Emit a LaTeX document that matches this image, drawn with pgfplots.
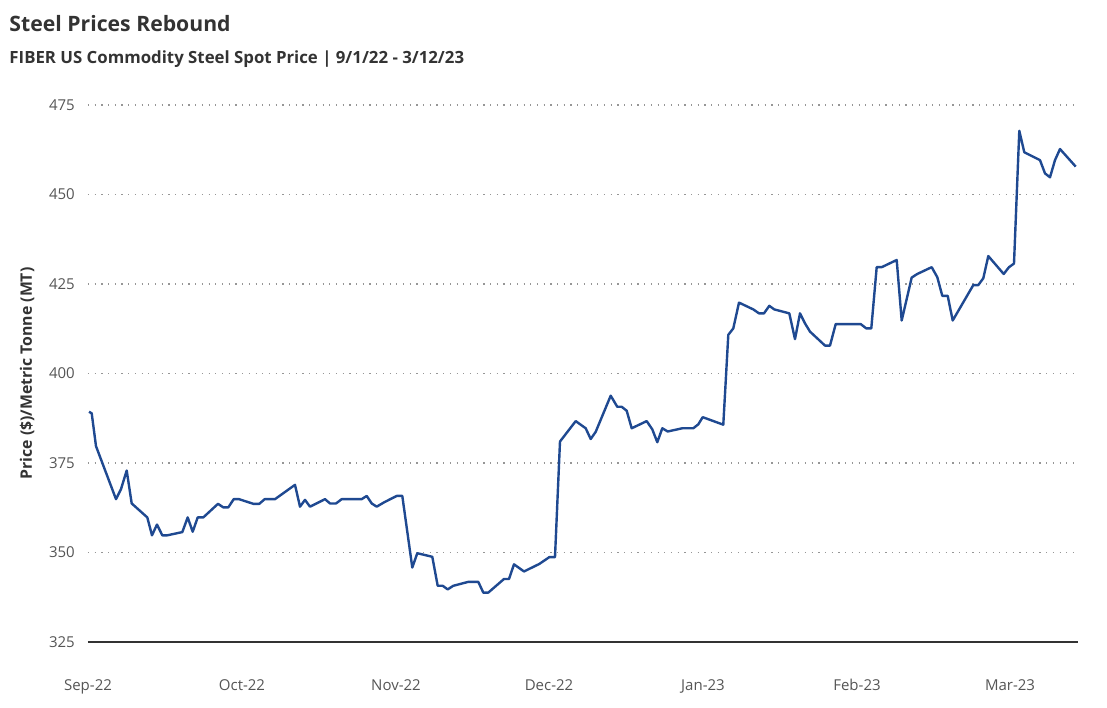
\documentclass[border=0pt]{standalone}
\usepackage{fontspec}
\setmainfont{Open Sans}
\usepackage{pgfplots}
\pgfplotsset{compat=1.18}
\definecolor{lineblue}{RGB}{31,73,145}
\definecolor{titlegray}{RGB}{51,51,51}
\definecolor{tickgray}{RGB}{85,85,85}
\definecolor{gridgray}{RGB}{150,150,150}
\begin{document}
\begin{tikzpicture}
\begin{axis}[
  scale only axis,
  width=990bp, height=537bp,
  xmin=88, xmax=1078,
  ymin=325, ymax=475,
  ytick={325,350,375,400,425,450,475},
  xtick={88,242,396,549,703,857,1010},
  xticklabels={Sep-22,Oct-22,Nov-22,Dec-22,Jan-23,Feb-23,Mar-23},
  axis lines*=left,
  y axis line style={draw=none},
  x axis line style={draw=titlegray, line width=1.1bp},
  major tick length=0pt,
  tick style={draw=none},
  ymajorgrids,
  grid style={draw=gridgray, line width=1.2bp, dash pattern=on 1.2bp off 5.5bp},
  /pgf/number format/assume math mode=true,
  ticklabel style={font=\fontsize{15bp}{18bp}\selectfont, text=tickgray, inner sep=0pt},
  xticklabel style={anchor=base, yshift=-48.5bp},
  yticklabel style={anchor=east, xshift=-13bp},
  clip=false,
]
\addplot[lineblue, line width=2.4bp, line join=round] coordinates {
(89,389.3)(91.7,388.9)(96,379.7)(116,364.9)(121,367.7)(126.7,372.9)(131.7,363.7)
(147.3,359.8)(152,354.8)(157,357.8)(162.3,354.8)(167.3,354.8)(182.3,355.7)(187.7,359.8)
(192.7,355.8)(197.7,359.8)(203.3,359.8)(218,363.6)(223.3,362.6)(228.3,362.6)(233.7,364.9)
(239,364.9)(253.3,363.6)(259.3,363.6)(264.7,364.9)(275,364.9)(295,368.9)(300,362.8)
(305,364.7)(310,362.8)(325,364.9)(330,363.7)(336,363.7)(341.7,364.9)(361.7,364.9)
(366.7,365.8)(371.7,363.7)(376.7,362.8)(384,364.0)(396.7,365.8)(402.3,365.8)(412.3,345.8)
(417.3,349.8)(432.3,348.8)(437.7,340.7)(442.7,340.7)(447.7,339.7)(453.3,340.7)(468.3,341.8)
(478.3,341.8)(483.3,338.8)(488.3,338.8)(504,342.6)(509,342.6)(514,346.7)(524,344.7)
(539.3,346.8)(549.3,348.7)(555,348.7)(560,381.0)(575.7,386.7)(585.7,384.7)(590.7,381.7)
(595.7,383.7)(610.7,393.8)(617.3,390.7)(621.7,390.7)(626.7,389.6)(631.7,384.7)(646.7,386.7)
(652.3,384.4)(657.3,380.8)(662.3,384.7)(667.7,383.8)(682.3,384.7)(693.3,384.7)(698.3,385.8)
(702.7,387.8)(723.3,385.7)(728.3,410.8)(733.3,412.6)(739,419.8)(753.3,417.9)(759,416.8)
(764,416.8)(769.3,418.9)(774.3,417.9)(789.3,416.8)(795,409.6)(800,416.8)(805,414.0)
(810,411.7)(825,407.8)(830,407.8)(835.7,413.8)(860.7,413.8)(866.3,412.6)(871.3,412.6)
(876.7,429.7)(881.7,429.7)(896.7,431.7)(901.7,414.8)(911.7,426.8)(917.3,427.8)(931.7,429.7)
(937.3,426.9)(942.3,421.7)(947.7,421.7)(952.7,414.8)(973.3,424.7)(978.3,424.7)(983.3,426.6)
(988.3,432.8)(1003.7,427.8)(1009,429.7)(1014,430.7)(1019.3,467.8)(1024.3,461.8)(1040,459.6)
(1045,455.9)(1050,454.8)(1055,459.6)(1060,462.7)(1075.7,457.8)
};
\end{axis}
\node[anchor=base west, inner sep=0pt, text=titlegray, font=\bfseries\fontsize{21.2bp}{25bp}\selectfont] at (-78.7bp,610.3bp) {Steel Prices Rebound};
\node[anchor=base west, inner sep=0pt, text=titlegray, font=\bfseries\fontsize{16.8bp}{20bp}\selectfont] at (-78.7bp,578bp) {FIBER US Commodity Steel Spot Price | 9/1/22 - 3/12/23};
\node[rotate=90, anchor=center, inner sep=0pt, text=titlegray, font=\bfseries\fontsize{15.8bp}{19bp}\selectfont] at (-61bp,268.5bp) {Price (\$)/Metric Tonne (MT)};
\pgfresetboundingbox
\path[use as bounding box] (-88bp,-66bp) rectangle (1019bp,642bp);
\end{tikzpicture}
\end{document}
